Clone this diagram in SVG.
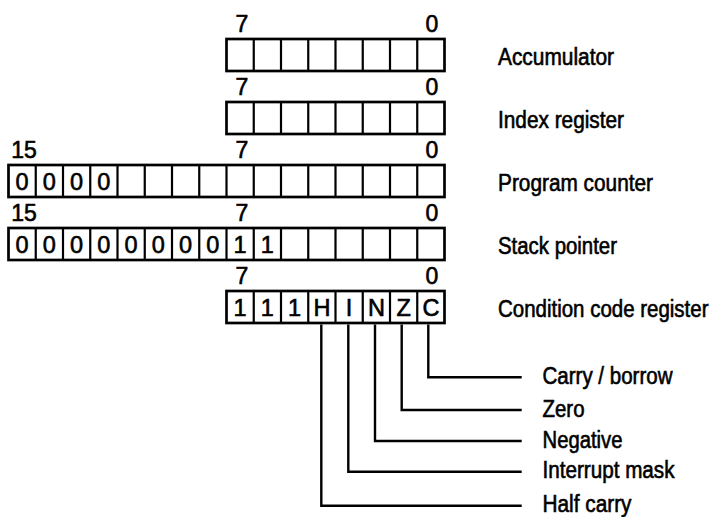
<svg xmlns="http://www.w3.org/2000/svg" width="715" height="517" viewBox="0 0 715 517">
<style>
  .box { fill: #fff; stroke: #000; stroke-width: 2.7; }
  .div { fill: none; stroke: #000; stroke-width: 2.2; }
  .conn { fill: none; stroke: #000; stroke-width: 2.4; }
  text { font-family: "Liberation Sans", Arial, sans-serif; font-size: 23px; fill: #000; stroke: #000; stroke-width: 0.6; }
  .c { text-anchor: middle; font-size: 23.5px; }
  .n { text-anchor: middle; }
</style>
<rect width="715" height="517" fill="#fff"/>

<g id="accumulator">
  <text class="n" x="242" y="31.5">7</text>
  <text class="n" x="432" y="31.5">0</text>
  <rect class="box" x="226.5" y="39" width="218" height="32"/>
  <path class="div" d="M253.75 39V71M281 39V71M308.25 39V71M335.5 39V71M362.75 39V71M390 39V71M417.25 39V71"/>
  <text x="498" y="65" textLength="116" lengthAdjust="spacingAndGlyphs">Accumulator</text>
</g>

<g id="index-register">
  <text class="n" x="242" y="94.5">7</text>
  <text class="n" x="432" y="94.5">0</text>
  <rect class="box" x="226.5" y="102" width="218" height="32"/>
  <path class="div" d="M253.75 102V134M281 102V134M308.25 102V134M335.5 102V134M362.75 102V134M390 102V134M417.25 102V134"/>
  <text x="498" y="128" textLength="126" lengthAdjust="spacingAndGlyphs">Index register</text>
</g>

<g id="program-counter">
  <text class="n" x="24" y="157.5">15</text>
  <text class="n" x="242" y="157.5">7</text>
  <text class="n" x="432" y="157.5">0</text>
  <rect class="box" x="8.5" y="165" width="436" height="32"/>
  <path class="div" d="M35.75 165V197M63 165V197M90.25 165V197M117.5 165V197M144.75 165V197M172 165V197M199.25 165V197M226.5 165V197M253.75 165V197M281 165V197M308.25 165V197M335.5 165V197M362.75 165V197M390 165V197M417.25 165V197"/>
  <text class="c" x="22.1" y="190">0</text>
  <text class="c" x="49.4" y="190">0</text>
  <text class="c" x="76.6" y="190">0</text>
  <text class="c" x="103.9" y="190">0</text>
  <text x="498" y="191" textLength="155" lengthAdjust="spacingAndGlyphs">Program counter</text>
</g>

<g id="stack-pointer">
  <text class="n" x="24" y="220.5">15</text>
  <text class="n" x="242" y="220.5">7</text>
  <text class="n" x="432" y="220.5">0</text>
  <rect class="box" x="8.5" y="228" width="436" height="32"/>
  <path class="div" d="M35.75 228V260M63 228V260M90.25 228V260M117.5 228V260M144.75 228V260M172 228V260M199.25 228V260M226.5 228V260M253.75 228V260M281 228V260M308.25 228V260M335.5 228V260M362.75 228V260M390 228V260M417.25 228V260"/>
  <text class="c" x="22.1" y="253">0</text>
  <text class="c" x="49.4" y="253">0</text>
  <text class="c" x="76.6" y="253">0</text>
  <text class="c" x="103.9" y="253">0</text>
  <text class="c" x="131.1" y="253">0</text>
  <text class="c" x="158.4" y="253">0</text>
  <text class="c" x="185.6" y="253">0</text>
  <text class="c" x="212.9" y="253">0</text>
  <text class="c" x="240.1" y="253">1</text>
  <text class="c" x="267.4" y="253">1</text>
  <text x="498" y="254" textLength="119" lengthAdjust="spacingAndGlyphs">Stack pointer</text>
</g>

<g id="condition-code-register">
  <text class="n" x="242" y="283.5">7</text>
  <text class="n" x="432" y="283.5">0</text>
  <rect class="box" x="226.5" y="291" width="218" height="32"/>
  <path class="div" d="M253.75 291V323M281 291V323M308.25 291V323M335.5 291V323M362.75 291V323M390 291V323M417.25 291V323"/>
  <text class="c" x="240.1" y="316">1</text>
  <text class="c" x="267.4" y="316">1</text>
  <text class="c" x="294.6" y="316">1</text>
  <text class="c" x="321.9" y="316">H</text>
  <text class="c" x="349.1" y="316">I</text>
  <text class="c" x="376.4" y="316">N</text>
  <text class="c" x="403.6" y="316">Z</text>
  <text class="c" x="430.9" y="316">C</text>
  <text transform="translate(498 316.5) scale(0.89 1)" x="0" y="0">Condition code register</text>
</g>

<g id="connectors">
  <path class="conn" d="M428.3 324.5V377.3H521.7"/>
  <path class="conn" d="M401.7 324.5V410H521.7"/>
  <path class="conn" d="M375 324.5V441H521.7"/>
  <path class="conn" d="M348.3 324.5V471.7H521.7"/>
  <path class="conn" d="M321.3 324.5V505.7H521.7"/>
</g>

<g id="flag-labels">
  <text id="carry" x="542.5" y="384" textLength="130" lengthAdjust="spacingAndGlyphs">Carry / borrow</text>
  <text id="zero" x="542.5" y="416.5" textLength="42" lengthAdjust="spacingAndGlyphs">Zero</text>
  <text id="negative" x="542.5" y="447.5" textLength="80" lengthAdjust="spacingAndGlyphs">Negative</text>
  <text id="interrupt" x="542.5" y="478.2" textLength="132" lengthAdjust="spacingAndGlyphs">Interrupt mask</text>
  <text id="halfcarry" x="542.5" y="512" textLength="89" lengthAdjust="spacingAndGlyphs">Half carry</text>
</g>
</svg>
